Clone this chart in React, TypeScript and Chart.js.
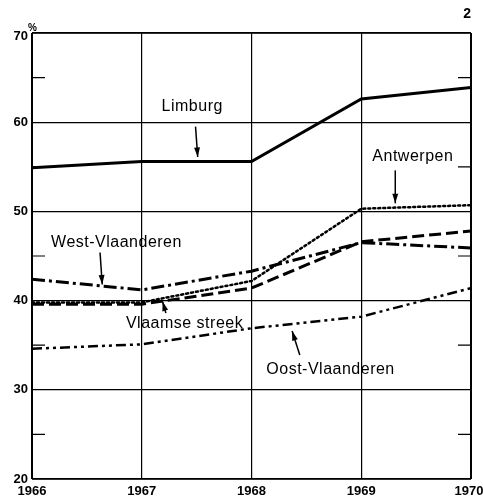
import React, { useEffect, useRef } from "react";
import { Chart, registerables } from "chart.js";

Chart.register(...registerables);

const years = [1966, 1967, 1968, 1969, 1970];
const limburg = [54.9, 55.6, 55.6, 62.6, 63.9];
const antwerpen = [39.8, 39.8, 42.2, 50.3, 50.7];
const westVlaanderen = [42.4, 41.2, 43.3, 46.5, 45.9];
const vlaamseStreek = [39.6, 39.6, 41.4, 46.6, 47.8];
const oostVlaanderen = [34.6, 35.1, 36.9, 38.2, 41.4];
const yTickLabels = [20, 30, 40, 50, 60, 70];
const minorTicks = [25, 35, 45, 55, 65];

// annotation labels: text centre and arrow (from -> to) in data units
const annotations = [
  { text: "Limburg", tx: 1967.46, ty: 61.7, ax1: 1967.49, ay1: 59.5, ax2: 1967.51, ay2: 56.1 },
  { text: "Antwerpen", tx: 1969.47, ty: 56.1, ax1: 1969.31, ay1: 54.6, ax2: 1969.31, ay2: 50.9 },
  { text: "West-Vlaanderen", tx: 1966.77, ty: 46.5, ax1: 1966.62, ay1: 45.4, ax2: 1966.64, ay2: 41.8 },
  { text: "Vlaamse streek", tx: 1967.39, ty: 37.4, ax1: 1967.22, ay1: 38.6, ax2: 1967.19, ay2: 39.9 },
  { text: "Oost-Vlaanderen", tx: 1968.72, ty: 32.3, ax1: 1968.44, ay1: 33.9, ax2: 1968.37, ay2: 36.6 },
];

const FONT = '"Liberation Sans", Arial, sans-serif';

const pts = (vals: number[]) => years.map((x, i) => ({ x, y: vals[i] }));

const decorPlugin = {
  id: "decor",
  afterDatasetsDraw(chart: any) {
    const { ctx, chartArea } = chart;
    const xs = chart.scales.x;
    const ys = chart.scales.y;
    ctx.save();
    ctx.strokeStyle = "#000";
    ctx.fillStyle = "#000";
    // frame
    ctx.lineWidth = 2;
    ctx.beginPath();
    ctx.moveTo(chartArea.left, chartArea.top);
    ctx.lineTo(chartArea.left, chartArea.bottom);
    ctx.moveTo(chartArea.right, chartArea.top);
    ctx.lineTo(chartArea.right, chartArea.bottom);
    ctx.stroke();
    ctx.lineWidth = 1.5;
    ctx.beginPath();
    ctx.moveTo(chartArea.left, chartArea.top);
    ctx.lineTo(chartArea.right, chartArea.top);
    ctx.moveTo(chartArea.left, chartArea.bottom);
    ctx.lineTo(chartArea.right, chartArea.bottom);
    ctx.stroke();
    // minor ticks
    ctx.lineWidth = 1.2;
    ctx.beginPath();
    minorTicks.forEach((v) => {
      const y = ys.getPixelForValue(v);
      ctx.moveTo(chartArea.left, y);
      ctx.lineTo(chartArea.left + 13, y);
      ctx.moveTo(chartArea.right - 13, y);
      ctx.lineTo(chartArea.right, y);
    });
    ctx.stroke();
    // y labels
    ctx.font = `bold 13px ${FONT}`;
    ctx.textAlign = "right";
    ctx.textBaseline = "middle";
    yTickLabels.forEach((v) => {
      const y = ys.getPixelForValue(v);
      ctx.fillText(String(v), chartArea.left - 4, v === 70 ? y + 3 : y);
    });
    ctx.font = `bold 10px ${FONT}`;
    ctx.textAlign = "left";
    ctx.fillText("%", chartArea.left - 4, ys.getPixelForValue(70) - 5);
    // x labels
    ctx.font = `bold 13px ${FONT}`;
    ctx.textAlign = "center";
    ctx.textBaseline = "top";
    years.forEach((yr) => {
      let x = xs.getPixelForValue(yr);
      if (yr === 1970) x = Math.min(x, chart.width - 14);
      ctx.fillText(String(yr), x, chartArea.bottom + 6);
    });
    // page number
    ctx.font = `bold 14px ${FONT}`;
    ctx.textAlign = "right";
    ctx.textBaseline = "middle";
    ctx.fillText("2", chartArea.right, 14);
    // annotations
    ctx.font = `16px ${FONT}`;
    (ctx as any).letterSpacing = "0.5px";
    ctx.textAlign = "center";
    ctx.textBaseline = "middle";
    ctx.lineWidth = 1.5;
    annotations.forEach((a) => {
      ctx.fillText(a.text, xs.getPixelForValue(a.tx), ys.getPixelForValue(a.ty));
      const x1 = xs.getPixelForValue(a.ax1);
      const y1 = ys.getPixelForValue(a.ay1);
      const x2 = xs.getPixelForValue(a.ax2);
      const y2 = ys.getPixelForValue(a.ay2);
      ctx.beginPath();
      ctx.moveTo(x1, y1);
      ctx.lineTo(x2, y2);
      ctx.stroke();
      const ang = Math.atan2(y2 - y1, x2 - x1);
      const L = 10;
      const W = 0.3;
      ctx.beginPath();
      ctx.moveTo(x2, y2);
      ctx.lineTo(x2 - L * Math.cos(ang - W), y2 - L * Math.sin(ang - W));
      ctx.lineTo(x2 - L * Math.cos(ang + W), y2 - L * Math.sin(ang + W));
      ctx.closePath();
      ctx.fill();
    });
    ctx.restore();
  },
};

export default function App() {
  const ref = useRef<HTMLCanvasElement | null>(null);
  useEffect(() => {
    document.body.style.margin = "0";
    const c = ref.current;
    if (!c) return;
    const chart = new Chart(c, {
      type: "line",
      data: {
        datasets: [
          { label: "Limburg", data: pts(limburg), borderColor: "#000", borderWidth: 3, pointRadius: 0, tension: 0 },
          { label: "Antwerpen", data: pts(antwerpen), borderColor: "#000", borderWidth: 2.5, borderDash: [2, 3], borderCapStyle: "round", pointRadius: 0 },
          { label: "West-Vlaanderen", data: pts(westVlaanderen), borderColor: "#000", borderWidth: 3, borderDash: [13, 4, 3, 4], pointRadius: 0 },
          { label: "Vlaamse streek", data: pts(vlaamseStreek), borderColor: "#000", borderWidth: 3, borderDash: [12, 5], pointRadius: 0 },
          { label: "Oost-Vlaanderen", data: pts(oostVlaanderen), borderColor: "#000", borderWidth: 2.5, borderDash: [10, 4, 3, 4, 3, 4], pointRadius: 0 },
        ] as any,
      },
      plugins: [decorPlugin],
      options: {
        animation: false,
        responsive: false,
        layout: { padding: { left: 0, top: 33, right: 12, bottom: 0 } },
        plugins: { legend: { display: false }, tooltip: { enabled: false } },
        scales: {
          x: {
            type: "linear",
            min: 1966,
            max: 1970,
            ticks: { stepSize: 1, display: false },
            grid: { color: "#000", lineWidth: 1.2, drawTicks: false },
            border: { display: false },
            afterFit: (s: any) => { s.height = 18; },
          },
          y: {
            min: 20,
            max: 70,
            ticks: { stepSize: 10, display: false },
            grid: { color: "#000", lineWidth: 1.2, drawTicks: false },
            border: { display: false },
            afterFit: (s: any) => { s.width = 32; },
          },
        },
      } as any,
    });
    return () => chart.destroy();
  }, []);
  return (
    <div style={{ width: 483, height: 497 }}>
      <canvas ref={ref} width={483} height={497} style={{ width: 483, height: 497, display: "block" }} />
    </div>
  );
}
